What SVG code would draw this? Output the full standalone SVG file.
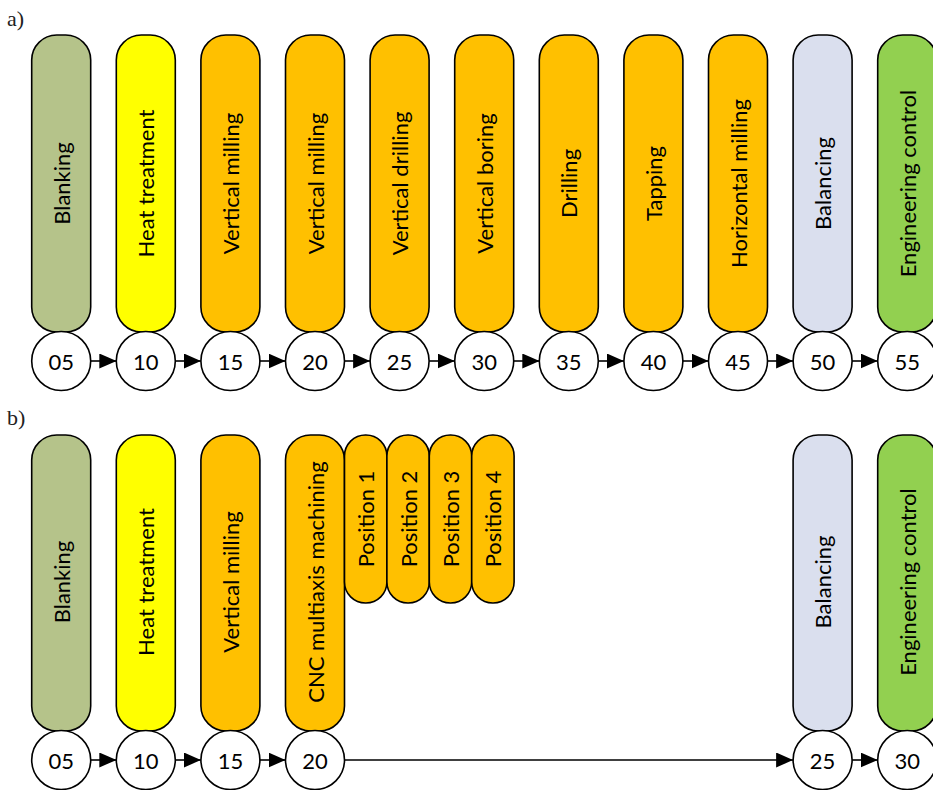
<svg xmlns="http://www.w3.org/2000/svg" width="933" height="790" viewBox="0 0 933 790">
<defs>
<style>
.p{stroke:#000;stroke-width:1.6}
.c{fill:#fff;stroke:#000;stroke-width:1.6}
.t{font-family:Lato,"Open Sans",sans-serif;font-size:22px;fill:#000;text-anchor:middle;dominant-baseline:central}
.lab{font-family:"Liberation Serif",serif;font-size:22px;fill:#222}
.e{stroke:#000;stroke-width:1.6;fill:none;marker-end:url(#ah)}
.g1{fill:#B5C38A}.y{fill:#FFFF00}.o{fill:#FFC000}.bl{fill:#DADFEE}.gr{fill:#92D050}
</style>
<marker id="ah" markerWidth="17" markerHeight="15" refX="17" refY="7.5" orient="auto" markerUnits="userSpaceOnUse">
<path d="M0,0 L17,7.5 L0,15 Z" fill="#000"/>
</marker>
</defs>
<text class="lab" x="7" y="26">a)</text>
<text class="lab" x="7" y="425">b)</text>

<g id="a-pills">
<g id="a05"><rect class="p g1" x="31.7" y="35" width="59" height="297" rx="25"/><text class="t" transform="translate(61.2,183.5) rotate(-90)">Blanking</text><circle class="c" cx="61.2" cy="361" r="29.5"/><text class="t" x="61.2" y="361">05</text></g>
<g id="a10"><rect class="p y" x="116.3" y="35" width="59" height="297" rx="25"/><text class="t" transform="translate(145.8,183.5) rotate(-90)">Heat treatment</text><circle class="c" cx="145.8" cy="361" r="29.5"/><text class="t" x="145.8" y="361">10</text></g>
<g id="a15"><rect class="p o" x="200.9" y="35" width="59" height="297" rx="25"/><text class="t" transform="translate(230.4,183.5) rotate(-90)">Vertical milling</text><circle class="c" cx="230.4" cy="361" r="29.5"/><text class="t" x="230.4" y="361">15</text></g>
<g id="a20"><rect class="p o" x="285.5" y="35" width="59" height="297" rx="25"/><text class="t" transform="translate(315,183.5) rotate(-90)">Vertical milling</text><circle class="c" cx="315" cy="361" r="29.5"/><text class="t" x="315" y="361">20</text></g>
<g id="a25"><rect class="p o" x="370.1" y="35" width="59" height="297" rx="25"/><text class="t" transform="translate(399.6,183.5) rotate(-90)">Vertical drilling</text><circle class="c" cx="399.6" cy="361" r="29.5"/><text class="t" x="399.6" y="361">25</text></g>
<g id="a30"><rect class="p o" x="454.7" y="35" width="59" height="297" rx="25"/><text class="t" transform="translate(484.2,183.5) rotate(-90)">Vertical boring</text><circle class="c" cx="484.2" cy="361" r="29.5"/><text class="t" x="484.2" y="361">30</text></g>
<g id="a35"><rect class="p o" x="539.3" y="35" width="59" height="297" rx="25"/><text class="t" transform="translate(568.8,183.5) rotate(-90)">Drilling</text><circle class="c" cx="568.8" cy="361" r="29.5"/><text class="t" x="568.8" y="361">35</text></g>
<g id="a40"><rect class="p o" x="623.9" y="35" width="59" height="297" rx="25"/><text class="t" transform="translate(653.4,183.5) rotate(-90)">Tapping</text><circle class="c" cx="653.4" cy="361" r="29.5"/><text class="t" x="653.4" y="361">40</text></g>
<g id="a45"><rect class="p o" x="708.5" y="35" width="59" height="297" rx="25"/><text class="t" transform="translate(738,183.5) rotate(-90)">Horizontal milling</text><circle class="c" cx="738" cy="361" r="29.5"/><text class="t" x="738" y="361">45</text></g>
<g id="a50"><rect class="p bl" x="793.1" y="35" width="59" height="297" rx="25"/><text class="t" transform="translate(822.6,183.5) rotate(-90)">Balancing</text><circle class="c" cx="822.6" cy="361" r="29.5"/><text class="t" x="822.6" y="361">50</text></g>
<g id="a55"><rect class="p gr" x="877.7" y="35" width="59" height="297" rx="25"/><text class="t" transform="translate(907.2,183.5) rotate(-90)">Engineering control</text><circle class="c" cx="907.2" cy="361" r="29.5"/><text class="t" x="907.2" y="361">55</text></g>
</g>

<g id="b-pills">
<g id="b05"><rect class="p g1" x="31.7" y="435" width="59" height="296" rx="25"/><text class="t" transform="translate(61.2,582) rotate(-90)">Blanking</text><circle class="c" cx="61.2" cy="760" r="29.5"/><text class="t" x="61.2" y="760">05</text></g>
<g id="b10"><rect class="p y" x="116.3" y="435" width="59" height="296" rx="25"/><text class="t" transform="translate(145.8,582) rotate(-90)">Heat treatment</text><circle class="c" cx="145.8" cy="760" r="29.5"/><text class="t" x="145.8" y="760">10</text></g>
<g id="b15"><rect class="p o" x="200.9" y="435" width="59" height="296" rx="25"/><text class="t" transform="translate(230.4,582) rotate(-90)">Vertical milling</text><circle class="c" cx="230.4" cy="760" r="29.5"/><text class="t" x="230.4" y="760">15</text></g>
<g id="b20"><rect class="p o" x="285.5" y="435" width="59" height="296" rx="25"/><text class="t" transform="translate(315,582) rotate(-90)">CNC multiaxis machining</text><circle class="c" cx="315" cy="760" r="29.5"/><text class="t" x="315" y="760">20</text></g>
<g id="pos1"><rect class="p o" x="344.5" y="435" width="42.4" height="168" rx="21"/><text class="t" transform="translate(365.7,519) rotate(-90)">Position 1</text></g>
<g id="pos2"><rect class="p o" x="386.9" y="435" width="42.4" height="168" rx="21"/><text class="t" transform="translate(408.1,519) rotate(-90)">Position 2</text></g>
<g id="pos3"><rect class="p o" x="429.3" y="435" width="42.4" height="168" rx="21"/><text class="t" transform="translate(450.5,519) rotate(-90)">Position 3</text></g>
<g id="pos4"><rect class="p o" x="471.7" y="435" width="42.4" height="168" rx="21"/><text class="t" transform="translate(492.9,519) rotate(-90)">Position 4</text></g>
<g id="b25"><rect class="p bl" x="793.1" y="435" width="59" height="296" rx="25"/><text class="t" transform="translate(822.6,582) rotate(-90)">Balancing</text><circle class="c" cx="822.6" cy="760" r="29.5"/><text class="t" x="822.6" y="760">25</text></g>
<g id="b30"><rect class="p gr" x="877.7" y="435" width="59" height="296" rx="25"/><text class="t" transform="translate(907.2,582) rotate(-90)">Engineering control</text><circle class="c" cx="907.2" cy="760" r="29.5"/><text class="t" x="907.2" y="760">30</text></g>
</g>

<g id="connectors">
<line class="e" x1="90.7" y1="361" x2="116.3" y2="361"/>
<line class="e" x1="175.3" y1="361" x2="200.9" y2="361"/>
<line class="e" x1="259.9" y1="361" x2="285.5" y2="361"/>
<line class="e" x1="344.5" y1="361" x2="370.1" y2="361"/>
<line class="e" x1="429.1" y1="361" x2="454.7" y2="361"/>
<line class="e" x1="513.7" y1="361" x2="539.3" y2="361"/>
<line class="e" x1="598.3" y1="361" x2="623.9" y2="361"/>
<line class="e" x1="682.9" y1="361" x2="708.5" y2="361"/>
<line class="e" x1="767.5" y1="361" x2="793.1" y2="361"/>
<line class="e" x1="852.1" y1="361" x2="877.7" y2="361"/>
<line class="e" x1="90.7" y1="760" x2="116.3" y2="760"/>
<line class="e" x1="175.3" y1="760" x2="200.9" y2="760"/>
<line class="e" x1="259.9" y1="760" x2="285.5" y2="760"/>
<line class="e" x1="344.5" y1="760" x2="793.1" y2="760"/>
<line class="e" x1="852.1" y1="760" x2="877.7" y2="760"/>
</g>
</svg>
